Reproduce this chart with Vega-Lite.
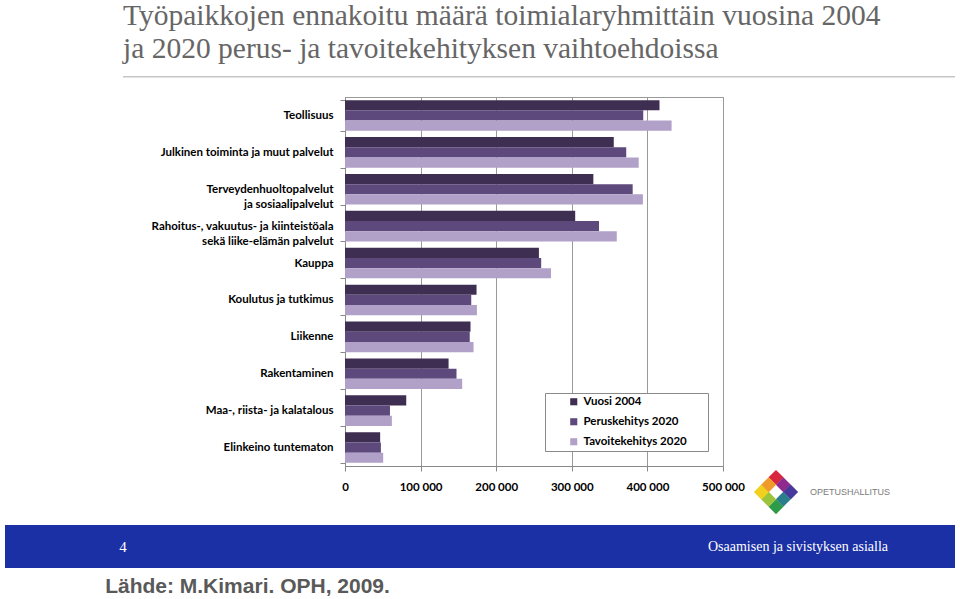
{
  "$schema": "https://vega.github.io/schema/vega-lite/v6.json",
  "padding": {"left": 5, "top": 0, "right": 5, "bottom": 0},
  "background": "white",
  "data": {"values": [{}]},
  "columns": 1,
  "spacing": 0,
  "align": "each",
  "resolve": {"scale": {"x": "independent", "y": "independent", "color": "independent"}, "legend": {"color": "independent"}},
  "config": {"view": {"stroke": null}, "font": "Lato"},
  "concat": [
    {
      "hconcat": [
        {"width": 118, "height": 13.5, "mark": {"type": "text", "text": ""}},
        {
          "width": 832, "height": 1.5, "view": {"fill": "#c6c6c6"},
          "title": {"text": ["Työpaikkojen ennakoitu määrä toimialaryhmittäin vuosina 2004", "ja 2020 perus- ja tavoitekehityksen vaihtoehdoissa"], "anchor": "start", "frame": "group", "orient": "top", "offset": 6.2, "baseline": "top", "font": "Liberation Serif", "fontSize": 29.5, "fontWeight": "normal", "color": "#666666", "lineHeight": 33.3},
          "mark": {"type": "text", "text": ""}
        }
      ],
      "spacing": 0, "bounds": "flush"
    },
    {
      "hconcat": [
        {"width": 340, "height": 369, "mark": {"type": "text", "text": ""}},
        {
          "width": 378, "height": 369,
          "view": {"stroke": "#9a9a9a"},
          "data": {"values": [
            {"ala": "Teollisuus", "sarja": "Vuosi 2004", "tyopaikat": 416000},
            {"ala": "Teollisuus", "sarja": "Peruskehitys 2020", "tyopaikat": 394500},
            {"ala": "Teollisuus", "sarja": "Tavoitekehitys 2020", "tyopaikat": 432000},
            {"ala": "Julkinen toiminta ja muut palvelut", "sarja": "Vuosi 2004", "tyopaikat": 355500},
            {"ala": "Julkinen toiminta ja muut palvelut", "sarja": "Peruskehitys 2020", "tyopaikat": 372000},
            {"ala": "Julkinen toiminta ja muut palvelut", "sarja": "Tavoitekehitys 2020", "tyopaikat": 388500},
            {"ala": "Terveydenhuoltopalvelut ja sosiaalipalvelut", "sarja": "Vuosi 2004", "tyopaikat": 328500},
            {"ala": "Terveydenhuoltopalvelut ja sosiaalipalvelut", "sarja": "Peruskehitys 2020", "tyopaikat": 380500},
            {"ala": "Terveydenhuoltopalvelut ja sosiaalipalvelut", "sarja": "Tavoitekehitys 2020", "tyopaikat": 394000},
            {"ala": "Rahoitus-, vakuutus- ja kiinteistöala sekä liike-elämän palvelut", "sarja": "Vuosi 2004", "tyopaikat": 304500},
            {"ala": "Rahoitus-, vakuutus- ja kiinteistöala sekä liike-elämän palvelut", "sarja": "Peruskehitys 2020", "tyopaikat": 336000},
            {"ala": "Rahoitus-, vakuutus- ja kiinteistöala sekä liike-elämän palvelut", "sarja": "Tavoitekehitys 2020", "tyopaikat": 359500},
            {"ala": "Kauppa", "sarja": "Vuosi 2004", "tyopaikat": 256500},
            {"ala": "Kauppa", "sarja": "Peruskehitys 2020", "tyopaikat": 259500},
            {"ala": "Kauppa", "sarja": "Tavoitekehitys 2020", "tyopaikat": 272500},
            {"ala": "Koulutus ja tutkimus", "sarja": "Vuosi 2004", "tyopaikat": 174000},
            {"ala": "Koulutus ja tutkimus", "sarja": "Peruskehitys 2020", "tyopaikat": 167000},
            {"ala": "Koulutus ja tutkimus", "sarja": "Tavoitekehitys 2020", "tyopaikat": 174500},
            {"ala": "Liikenne", "sarja": "Vuosi 2004", "tyopaikat": 166000},
            {"ala": "Liikenne", "sarja": "Peruskehitys 2020", "tyopaikat": 165000},
            {"ala": "Liikenne", "sarja": "Tavoitekehitys 2020", "tyopaikat": 170000},
            {"ala": "Rakentaminen", "sarja": "Vuosi 2004", "tyopaikat": 137000},
            {"ala": "Rakentaminen", "sarja": "Peruskehitys 2020", "tyopaikat": 147500},
            {"ala": "Rakentaminen", "sarja": "Tavoitekehitys 2020", "tyopaikat": 155000},
            {"ala": "Maa-, riista- ja kalatalous", "sarja": "Vuosi 2004", "tyopaikat": 81000},
            {"ala": "Maa-, riista- ja kalatalous", "sarja": "Peruskehitys 2020", "tyopaikat": 59500},
            {"ala": "Maa-, riista- ja kalatalous", "sarja": "Tavoitekehitys 2020", "tyopaikat": 62000},
            {"ala": "Elinkeino tuntematon", "sarja": "Vuosi 2004", "tyopaikat": 46500},
            {"ala": "Elinkeino tuntematon", "sarja": "Peruskehitys 2020", "tyopaikat": 47500},
            {"ala": "Elinkeino tuntematon", "sarja": "Tavoitekehitys 2020", "tyopaikat": 50500}
          ]},
          "mark": {"type": "bar"},
          "encoding": {
            "y": {
              "field": "ala", "type": "nominal",
              "sort": ["Teollisuus", "Julkinen toiminta ja muut palvelut", "Terveydenhuoltopalvelut ja sosiaalipalvelut", "Rahoitus-, vakuutus- ja kiinteistöala sekä liike-elämän palvelut", "Kauppa", "Koulutus ja tutkimus", "Liikenne", "Rakentaminen", "Maa-, riista- ja kalatalous", "Elinkeino tuntematon"],
              "scale": {"paddingInner": 0.17, "paddingOuter": 0.085},
              "axis": {
                "title": null, "tickBand": "extent", "tickSize": 5, "tickColor": "#888888", "domainColor": "#888888",
                "labelFont": "Lato", "labelFontWeight": "bold", "labelFontSize": 11.5, "labelColor": "#000000",
                "labelPadding": 7, "labelLimit": 300, "labelLineHeight": 15,
                "labelExpr": "datum.label == 'Terveydenhuoltopalvelut ja sosiaalipalvelut' ? ['Terveydenhuoltopalvelut', 'ja sosiaalipalvelut'] : datum.label == 'Rahoitus-, vakuutus- ja kiinteistöala sekä liike-elämän palvelut' ? ['Rahoitus-, vakuutus- ja kiinteistöala', 'sekä liike-elämän palvelut'] : datum.label"
              }
            },
            "yOffset": {"field": "sarja", "type": "nominal", "sort": ["Vuosi 2004", "Peruskehitys 2020", "Tavoitekehitys 2020"], "scale": {"paddingInner": 0, "paddingOuter": 0}},
            "x": {
              "field": "tyopaikat", "type": "quantitative",
              "scale": {"domain": [0, 500000], "nice": false},
              "axis": {
                "title": null, "values": [0, 100000, 200000, 300000, 400000, 500000],
                "grid": true, "gridColor": "#9a9a9a", "tickSize": 5, "tickColor": "#888888", "domainColor": "#888888",
                "labelFont": "Lato", "labelFontWeight": "bold", "labelFontSize": 11.5, "labelColor": "#000000",
                "labelPadding": 10, "labelFlush": false, "labelOverlap": false,
                "labelExpr": "replace(format(datum.value, ','), regexp(',', 'g'), ' ')"
              }
            },
            "color": {
              "field": "sarja", "type": "nominal",
              "sort": ["Vuosi 2004", "Peruskehitys 2020", "Tavoitekehitys 2020"],
              "scale": {"domain": ["Vuosi 2004", "Peruskehitys 2020", "Tavoitekehitys 2020"], "range": ["#3e2e52", "#5d497b", "#b1a1c9"]},
              "legend": {
                "title": null, "orient": "bottom-right", "offset": 15,
                "fillColor": "white", "strokeColor": "#8a8a8a", "padding": 3,
                "symbolType": "square", "symbolSize": 50, "symbolStrokeWidth": 0, "symbolOffset": 20,
                "labelFont": "Lato", "labelFontWeight": "bold", "labelFontSize": 11.5, "labelColor": "#000000",
                "labelOffset": 4, "rowPadding": 7,
                "labelExpr": "datum.label + '\u2800\u2800'"
              }
            }
          }
        },
        {"width": 31, "height": 369, "mark": {"type": "text", "text": ""}},
        {
          "concat": [
            {"width": 44, "height": 369, "mark": {"type": "text", "text": ""}},
            {
              "hconcat": [
                {
                  "width": 44, "height": 59,
                  "data": {"values": [
                    {"cell": "ylä", "u": 0, "v": 2},
                    {"cell": "yläoikea", "u": 1, "v": 1},
                    {"cell": "oikea", "u": 2, "v": 0},
                    {"cell": "alaoikea", "u": 1, "v": -1},
                    {"cell": "ala", "u": 0, "v": -2},
                    {"cell": "alavasen", "u": -1, "v": -1},
                    {"cell": "vasen", "u": -2, "v": 0},
                    {"cell": "yläva", "u": -1, "v": 1}
                  ]},
                  "mark": {"type": "point", "shape": "square", "angle": 45, "filled": true, "size": 112, "opacity": 1},
                  "encoding": {
                    "x": {"field": "u", "type": "quantitative", "scale": {"domain": [-3, 3], "nice": false, "zero": false}, "axis": null},
                    "y": {"field": "v", "type": "quantitative", "scale": {"domain": [-4.5, 3.55], "nice": false, "zero": false}, "axis": null},
                    "color": {"field": "cell", "type": "nominal", "scale": {"domain": ["ylä", "yläoikea", "oikea", "alaoikea", "ala", "alavasen", "vasen", "yläva"], "range": ["#d7263d", "#8f2a8f", "#46399b", "#2a7e8c", "#2e9b48", "#9cc43a", "#f2d01e", "#f09a2a"]}, "legend": null}
                  }
                },
                {"width": 104, "height": 59, "mark": {"type": "text", "text": "OPETUSHALLITUS", "font": "Liberation Sans", "fontSize": 9, "color": "#7a7a7a", "baseline": "middle", "dy": -3.5}}
              ],
              "spacing": 0, "bounds": "flush",
              "resolve": {"scale": {"x": "independent", "y": "independent"}}
            }
          ],
          "columns": 1, "spacing": 0, "bounds": "flush", "align": "each",
          "resolve": {"scale": {"x": "independent", "y": "independent"}}
        }
      ],
      "spacing": 0, "bounds": "flush",
      "resolve": {"scale": {"x": "independent", "y": "independent", "color": "independent"}, "legend": {"color": "independent"}}
    },
    {
      "hconcat": [
        {"width": 236, "height": 43, "view": {"fill": "#1c30a6"}, "mark": {"type": "text", "text": "4", "font": "Liberation Serif", "fontSize": 15, "color": "#ffffff", "baseline": "middle"}},
        {"width": 400, "height": 43, "view": {"fill": "#1c30a6"}, "mark": {"type": "text", "text": ""}},
        {"width": 314, "height": 43, "view": {"fill": "#1c30a6"}, "mark": {"type": "text", "text": "Osaamisen ja sivistyksen asialla", "font": "Liberation Serif", "fontSize": 14, "color": "#ffffff", "baseline": "middle"}}
      ],
      "spacing": 0, "bounds": "flush"
    },
    {"width": 485, "height": 31, "mark": {"type": "text", "text": "Lähde: M.Kimari. OPH, 2009.", "font": "Liberation Sans", "fontWeight": "bold", "fontSize": 21, "color": "#595959", "baseline": "middle", "dy": 3}}
  ]
}
